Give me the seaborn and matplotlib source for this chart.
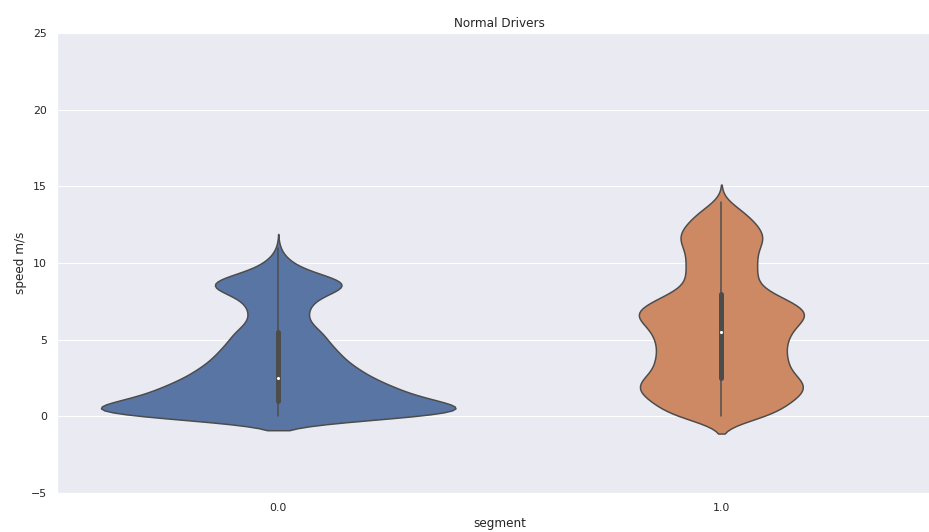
import numpy as np
import pandas as pd
import matplotlib.pyplot as plt
import seaborn as sns

# Plot style
sns.set_theme(style="darkgrid")

# speed levels (m/s), 0.5 m/s bins
speed_levels = [0.0, 0.5, 1.0, 1.5, 2.0, 2.5, 3.0, 3.5, 4.0, 4.5,
                5.0, 5.5, 6.0, 6.5, 7.0, 7.5, 8.0, 8.5, 9.0, 9.5,
                10.0, 10.5, 11.0, 11.5, 12.0, 12.5, 13.0, 13.5, 14.0]

# number of samples per speed level for each segment
counts_seg0 = [95, 117, 86, 72, 63, 52, 46, 39, 35, 31,
               27, 25, 18, 16, 17, 19, 27, 43, 34, 15,
               8, 3, 1, 0, 0, 0, 0, 0, 0]
counts_seg1 = [35, 32, 42, 47, 51, 45, 38, 39, 37, 37,
               38, 40, 43, 52, 50, 40, 30, 20, 21, 20,
               21, 20, 21, 26, 24, 21, 16, 12, 3]

segments = [0.0, 1.0]

# Build long-form table
speed = np.concatenate([np.repeat(speed_levels, counts_seg0),
                        np.repeat(speed_levels, counts_seg1)])
seg = np.repeat([str(s) for s in segments], [sum(counts_seg0), sum(counts_seg1)])
df = pd.DataFrame({"segment": seg, "speed m/s": speed})

fig, ax = plt.subplots(figsize=(929 / 72, 532 / 72), dpi=72)
sns.violinplot(data=df, x="segment", y="speed m/s", hue="segment",
               palette="deep", legend=False, bw_method=0.15,
               common_norm=True, linewidth=1.5,
               inner_kws=dict(box_width=5, whis_width=1.5, marker="."),
               ax=ax)
ax.set_ylim(-5, 25)
ax.set_title("Normal Drivers")
ax.set_xlabel("segment")
ax.set_ylabel("speed m/s")

plt.subplots_adjust(left=0.061, right=1.015, top=0.938, bottom=0.073)
plt.savefig("out.png", dpi=72)
